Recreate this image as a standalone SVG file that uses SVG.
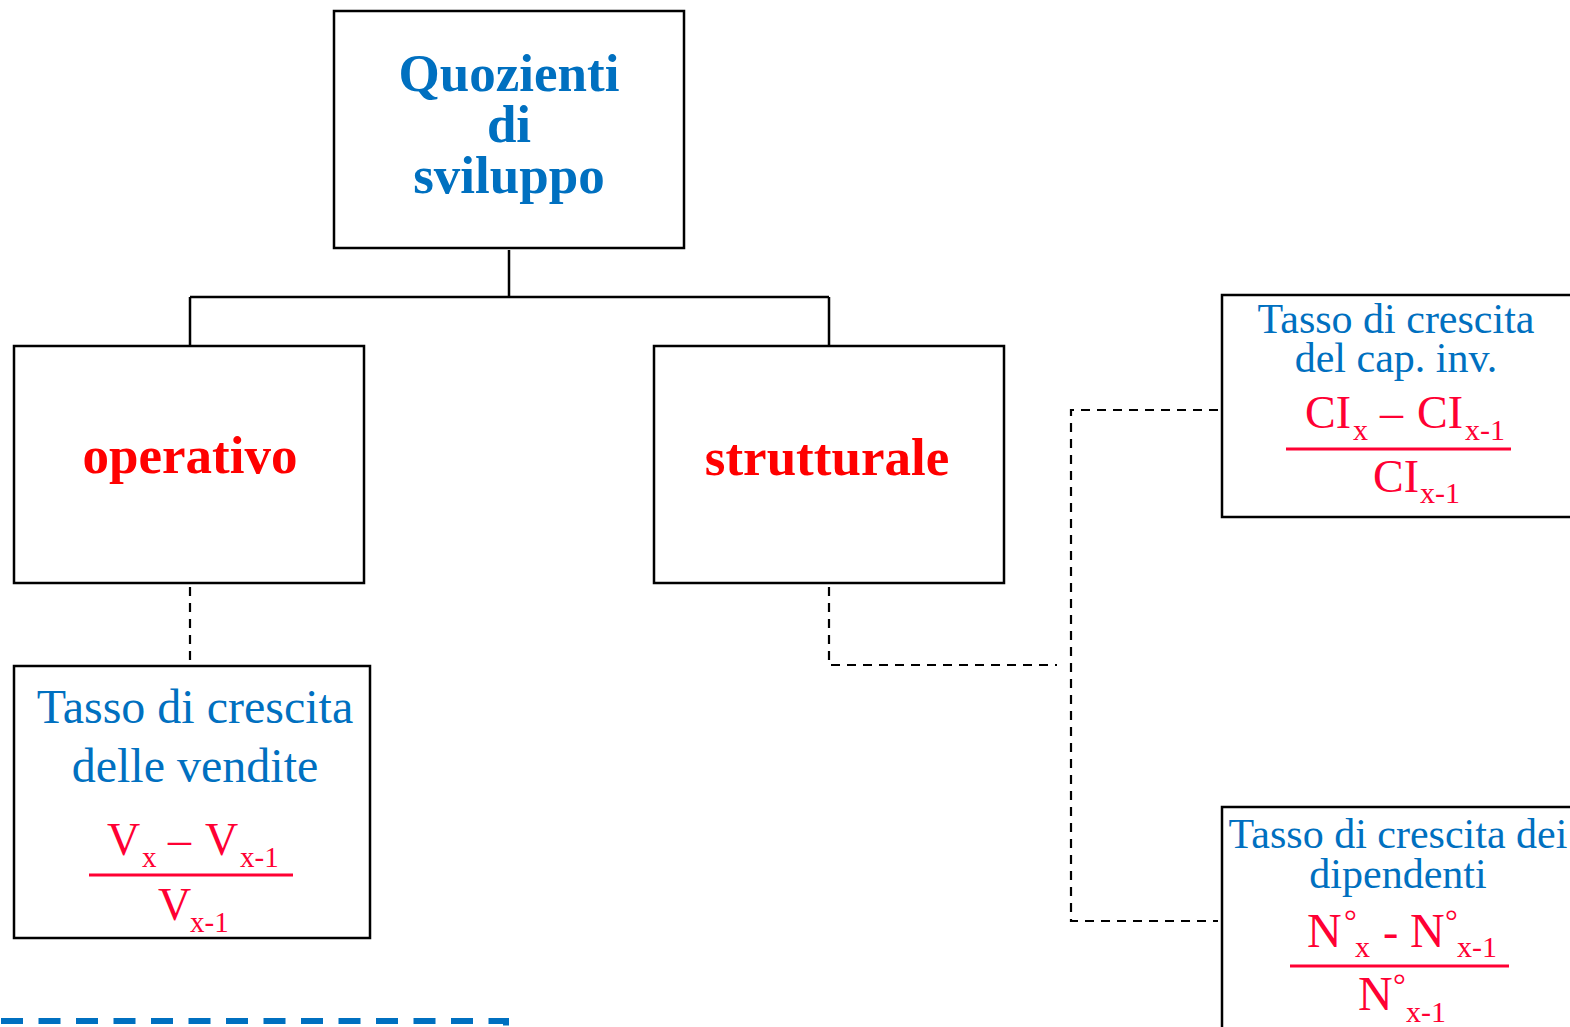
<svg xmlns="http://www.w3.org/2000/svg" width="1570" height="1027" viewBox="0 0 1570 1027">
<style>
.box{fill:#fff;stroke:#000;stroke-width:2.5}
.title{font-family:"Liberation Serif","Times New Roman",serif;font-weight:bold;font-size:53px;text-anchor:middle}
.blue{fill:#0070C0}
.red{fill:#FF0000}
.lbl{font-family:"Liberation Serif","Times New Roman",serif;fill:#0070C0;text-anchor:middle}
.f{font-family:"Liberation Serif","Times New Roman",serif;fill:#FF0033}
.fl{stroke:#FF0033;stroke-width:3}
.solid{fill:none;stroke:#000;stroke-width:2.5}
.dash{fill:none;stroke:#000;stroke-width:2.2;stroke-dasharray:9 7}
</style>
<rect width="1570" height="1027" fill="#fff"/>
<g id="connectors">
<path class="solid" d="M509 250 V297 M190 297 H829 M190 297 V346 M829 297 V346"/>
<path class="dash" d="M190 587 V665"/>
<path class="dash" d="M829 587 V665 H1057"/>
<path class="dash" d="M1218 410 H1071 V921 H1218"/>
</g>
<g id="n-quozienti">
<rect class="box" x="334" y="11" width="350" height="237"/>
<text class="title blue" x="509" y="91">Quozienti</text>
<text class="title blue" x="509" y="142">di</text>
<text class="title blue" x="509" y="193">sviluppo</text>
</g>
<g id="n-operativo">
<rect class="box" x="14" y="346" width="350" height="237"/>
<text class="title red" x="190" y="473">operativo</text>
</g>
<g id="n-strutturale">
<rect class="box" x="654" y="346" width="350" height="237"/>
<text class="title red" x="827" y="475">strutturale</text>
</g>
<g id="n-vendite">
<rect class="box" x="14" y="666" width="356" height="272"/>
<text class="lbl" x="195" y="723" font-size="48">Tasso di crescita</text>
<text class="lbl" x="195" y="782" font-size="48">delle vendite</text>
<text class="f" x="107" y="855" font-size="46">V</text>
<text class="f" x="142" y="867" font-size="29">x</text>
<text class="f" x="168" y="855" font-size="46">–</text>
<text class="f" x="205" y="855" font-size="46">V</text>
<text class="f" x="240" y="867" font-size="29">x-1</text>
<line class="fl" x1="89" y1="875" x2="293" y2="875"/>
<text class="f" x="158" y="920" font-size="46">V</text>
<text class="f" x="190" y="932" font-size="29">x-1</text>
</g>
<g id="n-capinv">
<rect class="box" x="1222" y="295" width="400" height="222"/>
<text class="lbl" x="1396" y="333" font-size="42">Tasso di crescita</text>
<text class="lbl" x="1396" y="372" font-size="42">del cap. inv.</text>
<text class="f" x="1305" y="428" font-size="46">CI</text>
<text class="f" x="1353" y="440" font-size="30">x</text>
<text class="f" x="1380" y="428" font-size="46">–</text>
<text class="f" x="1417" y="428" font-size="46">CI</text>
<text class="f" x="1465" y="440" font-size="30">x-1</text>
<line class="fl" x1="1286" y1="449" x2="1511" y2="449"/>
<text class="f" x="1373" y="492" font-size="46">CI</text>
<text class="f" x="1420" y="503" font-size="30">x-1</text>
</g>
<g id="n-dipendenti">
<rect class="box" x="1222" y="807" width="400" height="300"/>
<text class="lbl" x="1398" y="848" font-size="42">Tasso di crescita dei</text>
<text class="lbl" x="1398" y="888" font-size="42">dipendenti</text>
<text class="f" x="1307" y="947" font-size="48">N</text>
<text class="f" x="1344" y="932" font-size="32">°</text>
<text class="f" x="1355" y="957" font-size="30">x</text>
<text class="f" x="1383" y="947" font-size="46">-</text>
<text class="f" x="1410" y="947" font-size="48">N</text>
<text class="f" x="1445" y="932" font-size="32">°</text>
<text class="f" x="1457" y="957" font-size="30">x-1</text>
<line class="fl" x1="1290" y1="966" x2="1509" y2="966"/>
<text class="f" x="1358" y="1010" font-size="48">N</text>
<text class="f" x="1393" y="996" font-size="32">°</text>
<text class="f" x="1406" y="1022" font-size="30">x-1</text>
</g>
<g id="n-blue-dashed">
<path d="M1 1021 H506 V1040" fill="none" stroke="#0070C0" stroke-width="6" stroke-dasharray="22 15.5"/>
</g>
</svg>
